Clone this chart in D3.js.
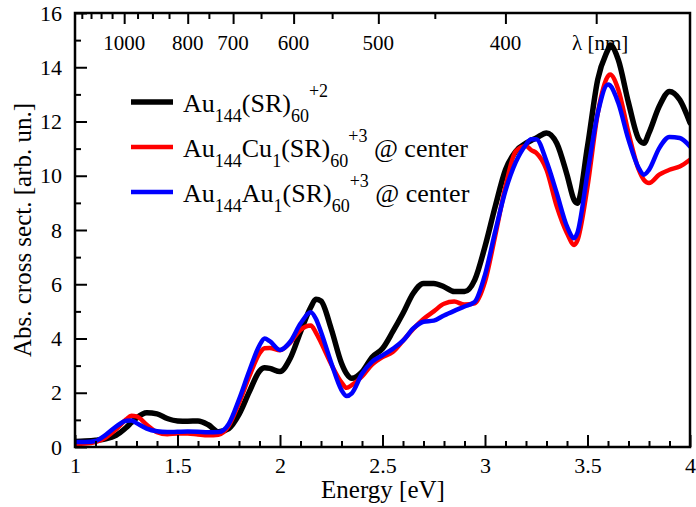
<!DOCTYPE html>
<html>
<head>
<meta charset="utf-8">
<script src="https://cdn.jsdelivr.net/npm/d3@7"></script>
</head>
<body style="margin:0">
<svg id="fig" width="696" height="507" style="display:block"></svg>
<script>
// ---------------- data ----------------
const energy = [1.00,1.05,1.10,1.15,1.20,1.25,1.275,1.30,1.35,1.40,1.45,1.50,1.55,1.60,1.65,1.70,1.75,1.80,1.85,1.90,1.925,1.95,2.00,2.05,2.10,2.15,2.175,2.20,2.25,2.30,2.325,2.35,2.40,2.45,2.50,2.55,2.60,2.65,2.70,2.75,2.80,2.85,2.90,2.95,3.00,3.05,3.10,3.15,3.20,3.225,3.25,3.30,3.35,3.40,3.435,3.45,3.50,3.55,3.60,3.61,3.65,3.70,3.75,3.775,3.80,3.85,3.90,3.95,4.00];

const au144 = [0.20,0.22,0.25,0.30,0.43,0.72,0.90,1.07,1.26,1.22,1.05,0.96,0.95,0.96,0.82,0.56,0.68,1.20,2.03,2.80,2.92,2.90,2.78,3.27,4.24,5.15,5.45,5.38,4.35,3.09,2.70,2.53,2.77,3.32,3.63,4.25,4.93,5.67,6.03,6.03,5.91,5.73,5.73,6.16,7.39,8.87,10.22,10.90,11.20,11.30,11.39,11.58,11.20,10.04,9.10,8.99,11.08,13.55,14.65,14.82,14.28,12.69,11.35,11.20,11.58,12.56,13.11,12.80,11.95];

const au144cu1 = [0.12,0.13,0.18,0.35,0.65,1.02,1.15,1.13,0.82,0.55,0.47,0.50,0.50,0.46,0.43,0.45,0.78,1.62,2.60,3.45,3.64,3.65,3.57,3.85,4.32,4.48,4.22,3.85,3.05,2.38,2.18,2.28,2.60,3.05,3.32,3.50,3.92,4.35,4.72,5.00,5.28,5.36,5.25,5.30,6.10,7.80,9.60,10.90,11.10,10.95,10.84,10.22,8.87,7.88,7.45,7.60,9.60,12.30,13.67,13.73,13.18,11.58,10.22,9.85,9.73,10.04,10.22,10.34,10.59];

const au144au1 = [0.18,0.18,0.22,0.45,0.75,0.97,0.98,0.88,0.68,0.58,0.55,0.56,0.57,0.56,0.54,0.55,0.85,1.75,2.80,3.75,4.00,3.90,3.58,3.88,4.55,4.97,4.73,4.24,3.10,2.10,1.88,1.98,2.70,3.15,3.38,3.62,3.92,4.37,4.62,4.66,4.85,5.02,5.18,5.35,6.35,7.95,9.45,10.50,11.15,11.35,11.35,10.53,9.36,8.13,7.70,7.88,10.10,12.30,13.36,13.33,12.69,11.33,10.28,10.04,10.22,11.02,11.43,11.39,11.08];

const xMajorTicks = [1, 1.5, 2, 2.5, 3, 3.5, 4];
const yMajorTicks = [0, 2, 4, 6, 8, 10, 12, 14, 16];
const wavelengthTicks = [1200,1150,1100,1050,1000,950,900,850,800,750,700,650,600,550,500,450,400,350];
const wavelengthLabels = [1000, 800, 700, 600, 500, 400];
const wavelengthLong = [1000, 800, 700, 600, 500, 400, 350];

const seriesColors = ["#000000", "#ff0000", "#0000ff"];

// ---------------- layout ----------------
const serifStack = "'Liberation Serif', Tinos, 'Times New Roman', 'Nimbus Roman', FreeSerif";
const mLeft = 75, mRight = 690, mTop = 13, mBottom = 447;
const svg = d3.select("#fig");

const x = d3.scaleLinear().domain([1, 4]).range([mLeft, mRight]);
const y = d3.scaleLinear().domain([0, 16]).range([mBottom, mTop]);

const hc = 1239.84;

svg.append("defs").append("clipPath").attr("id", "plotclip")
  .append("rect").attr("x", mLeft).attr("y", mTop).attr("width", mRight - mLeft).attr("height", mBottom - mTop);

// ---------------- curves ----------------
const seriesData = [au144, au144cu1, au144au1];
const widths = [5.5, 4.5, 4.5];
const line = d3.line().x(d => x(d[0])).y(d => y(d[1])).curve(d3.curveMonotoneX);

const g = svg.append("g").attr("clip-path", "url(#plotclip)");
seriesData.forEach((vals, i) => {
  g.append("path")
    .datum(energy.map((e, k) => [e, vals[k]]))
    .attr("fill", "none")
    .attr("stroke", seriesColors[i])
    .attr("stroke-width", widths[i])
    .attr("stroke-linejoin", "round")
    .attr("stroke-linecap", "round")
    .attr("d", line);
});

// ---------------- axes ----------------
const tickFont = 22;

svg.append("g").attr("transform", `translate(0,${mBottom})`)
  .call(d3.axisBottom(x).tickValues(xMajorTicks).tickSize(-12).tickPadding(10)
    .tickFormat(d => d3.format("")(d)));
svg.append("g").attr("transform", `translate(0,${mBottom})`)
  .call(d3.axisBottom(x).tickValues(d3.range(1.1, 4.0, 0.1).filter(v => Math.abs(v * 2 - Math.round(v * 2)) > 1e-6)).tickSize(-6).tickFormat(""));

svg.append("g").attr("transform", `translate(${mLeft},0)`)
  .call(d3.axisLeft(y).tickValues(yMajorTicks).tickSize(-12).tickPadding(13));
svg.append("g").attr("transform", `translate(${mLeft},0)`)
  .call(d3.axisLeft(y).tickValues([1, 3, 5, 7, 9, 11, 13, 15]).tickSize(-6).tickFormat(""));

const wlShort = wavelengthTicks.filter(w => !wavelengthLong.includes(w));
svg.append("g").attr("transform", `translate(0,${mTop})`)
  .call(d3.axisTop(x).tickValues(wlShort.map(w => hc / w)).tickSize(-6).tickFormat(""));
svg.append("g").attr("transform", `translate(0,${mTop})`)
  .call(d3.axisTop(x).tickValues(wavelengthLong.map(w => hc / w)).tickSize(-11).tickFormat(""));

svg.selectAll(".domain").remove();
svg.selectAll("g").attr("font-family", null);
svg.selectAll(".tick line").attr("stroke", "#000").attr("stroke-width", 2);
svg.selectAll(".tick text").attr("font-size", tickFont).attr("fill", "#000");

svg.append("g").selectAll("text").data(wavelengthLabels).join("text")
  .attr("x", w => x(hc / w))
  .attr("y", 50)
  .attr("text-anchor", "middle")
  .attr("font-size", 21)
  .text(w => w);

svg.append("text").attr("x", 572).attr("y", 50)
  .attr("font-size", 21).text("λ [nm]");

svg.append("rect").attr("x", mLeft).attr("y", mTop)
  .attr("width", mRight - mLeft).attr("height", mBottom - mTop)
  .attr("fill", "none").attr("stroke", "#000").attr("stroke-width", 2.5);

svg.append("text").attr("x", 383).attr("y", 498)
  .attr("text-anchor", "middle").attr("font-size", 25).text("Energy [eV]");
svg.append("text").attr("transform", `translate(31,${(mTop + mBottom) / 2}) rotate(-90)`)
  .attr("text-anchor", "middle").attr("font-size", 25).text("Abs. cross sect. [arb. un.]");

// ---------------- legend ----------------
const legendParts = [
  [["Au", 0], ["144", 1], ["(SR)", 0], ["60", 1], ["+2", 2]],
  [["Au", 0], ["144", 1], ["Cu", 0], ["1", 1], ["(SR)", 0], ["60", 1], ["+3", 2], ["\u00a0@ center", 0]],
  [["Au", 0], ["144", 1], ["Au", 0], ["1", 1], ["(SR)", 0], ["60", 1], ["+3", 2], ["\u00a0@ center", 0]]
];
const rowBase = [112, 157, 202];
const leg = svg.append("g");
legendParts.forEach((parts, i) => {
  leg.append("line")
    .attr("x1", 131).attr("x2", 173)
    .attr("y1", rowBase[i] - 10).attr("y2", rowBase[i] - 10)
    .attr("stroke", seriesColors[i]).attr("stroke-width", widths[i]);
  const t = leg.append("text").attr("x", 183).attr("y", rowBase[i]).attr("font-size", 26);
  let cur = 0;
  parts.forEach(([s, kind]) => {
    const target = kind === 1 ? 10 : (kind === 2 ? -15 : 0);
    t.append("tspan")
      .attr("dy", target - cur)
      .attr("font-size", kind === 0 ? 26 : 18)
      .text(s);
    cur = target;
  });
});

// serif face on every text and tspan, with high priority
svg.selectAll("text, tspan").each(function () {
  this.setAttribute("font-family", "Liberation Serif");
  this.style.setProperty("font-family", serifStack, "important");
});
</script>
</body>
</html>
